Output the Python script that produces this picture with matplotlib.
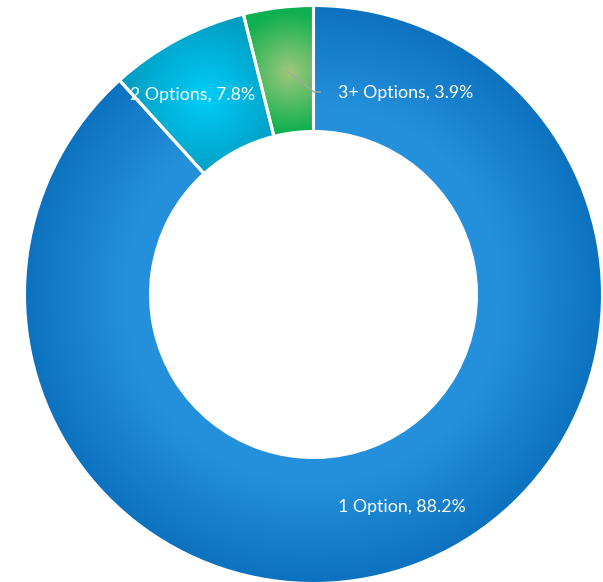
import numpy as np
import matplotlib
matplotlib.use("Agg")
import matplotlib.pyplot as plt
from matplotlib.colors import LinearSegmentedColormap

# Data
categories = ["1 Option", "2 Options", "3+ Options"]
shares = [88.2, 7.8, 3.9]

W, H = 603, 582
fig = plt.figure(figsize=(W / 100, H / 100), dpi=100)
ax = fig.add_axes([0, 0, 1, 1])

cx, cy = 313.5, H - 294.5
r_out, r_in = 289.0, 163.0

wedges, _ = ax.pie(
    shares, radius=r_out, center=(cx, cy), startangle=90, counterclock=False,
    wedgeprops=dict(width=r_out - r_in, edgecolor="white", linewidth=2.2),
    frame=True,
)
ax.set_xlim(0, W)
ax.set_ylim(0, H)
ax.set_aspect("equal")
ax.axis("off")

# Gradient fills clipped to each wedge
yy, xx = np.mgrid[0:H, 0:W] + 0.5
rr = np.hypot(xx - cx, yy - cy)

def paint(wedge, t, c0, c1):
    cmap = LinearSegmentedColormap.from_list("g", [c0, c1])
    img = cmap(np.clip(t, 0, 1))
    im = ax.imshow(img, extent=(0, W, 0, H), origin="lower", zorder=1.5,
                   interpolation="bilinear")
    im.set_clip_path(wedge)

# Main segment: light towards the hole, darker at the rim
t_blue = (rr - r_in - 25) / (r_out - r_in - 25)
paint(wedges[0], t_blue, "#2490dc", "#0c72bf")

def spot(wedge, px, py, scale, c0, c1):
    d = np.hypot(xx - px, yy - (H - py)) / scale
    paint(wedge, d, c0, c1)

spot(wedges[1], 205, 97, 100, "#00cdf8", "#0092b5")
spot(wedges[2], 290, 72, 60, "#9ec87b", "#0fb04f")

for w in wedges:
    w.set_zorder(2)
    w.set_facecolor("none")

# Labels
font = dict(color="white", fontsize=12.8, family=["Lato", "DejaVu Sans"],
            ha="center", va="center", zorder=5)
ax.text(193, H - 95, f"{categories[1]}, {shares[1]}%", **font)
ax.text(406, H - 93, f"{categories[2]}, {shares[2]}%", **font)
ax.text(402, H - 507, f"{categories[0]}, {shares[0]}%", **font)

# Leader line for the small segment
ax.plot([287, 314, 321], [H - 71, H - 92, H - 92], color="#a6a6a6",
        linewidth=1.0, zorder=4, solid_capstyle="butt")

fig.savefig("out.png", dpi=100, facecolor="white")
